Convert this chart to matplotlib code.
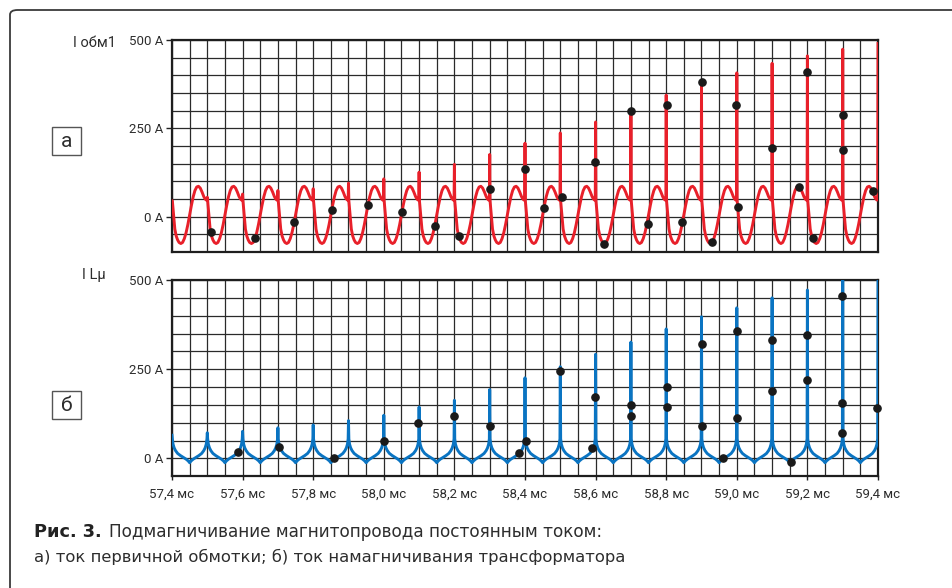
import matplotlib
matplotlib.use('Agg')
import matplotlib.pyplot as plt
import matplotlib.text as mtext
import numpy as np
from matplotlib.patches import FancyBboxPatch, Rectangle

# ---------------- data ----------------
spike_times = [57.4, 57.5, 57.6, 57.7, 57.8, 57.9, 58.0, 58.1, 58.2, 58.3, 58.4,
               58.5, 58.6, 58.7, 58.8, 58.9, 59.0, 59.1, 59.2, 59.3, 59.4]
red_spike_peaks = [45, 55, 64, 74, 79, 95, 107, 126, 148, 176, 208,
                   237, 268, 301, 344, 383, 407, 434, 455, 474, 490]
blue_spike_peaks = [65, 72, 76, 86, 94, 106, 121, 144, 163, 193, 226,
                    257, 292, 326, 363, 397, 422, 450, 472, 510, 510]

# one period of the red base wave: time after a spike (ms) / current (A)
red_period_dt = [0.001, 0.004, 0.008, 0.012, 0.016, 0.020, 0.025, 0.030, 0.035,
                 0.040, 0.045, 0.050, 0.055, 0.060, 0.065, 0.070, 0.075, 0.080,
                 0.085, 0.090, 0.094, 0.097, 0.099]
red_period_val = [45, 10, -35, -55, -66, -73, -76, -73, -62,
                  -45, -22, 5, 32, 56, 74, 84, 86, 81,
                  70, 57, 50, 47, 48]

# one period of the blue base wave: time after a spike (ms) / current (A)
blue_period_dt = [0.001, 0.003, 0.006, 0.010, 0.016, 0.024, 0.032, 0.040, 0.046,
                  0.050, 0.054, 0.060, 0.068, 0.076, 0.084, 0.090, 0.094, 0.097, 0.099]
blue_period_val = [55, 40, 30, 22, 14, 8, 3, -2, -7,
                   -12, -7, -2, 3, 8, 14, 22, 30, 40, 55]

red_dots_t = [57.510, 57.634, 57.747, 57.853, 57.955, 58.052, 58.145, 58.213,
              58.300, 58.400, 58.454, 58.504, 58.598, 58.625, 58.700, 58.749,
              58.801, 58.846, 58.900, 58.931, 58.999, 59.004, 59.099, 59.176,
              59.200, 59.216, 59.301, 59.301, 59.386]
red_dots_i = [-43, -61, -14, 18, 32, 14, -25, -55,
              78, 134, 25, 57, 154, -76, 299, -21,
              317, -14, 380, -73, 315, 26, 193, 83,
              410, -61, 289, 188, 74]

blue_dots_t = [57.587, 57.704, 57.860, 58.000, 58.097, 58.200, 58.300, 58.383,
               58.404, 58.499, 58.591, 58.598, 58.700, 58.700, 58.801, 58.801,
               58.900, 58.900, 58.961, 59.001, 59.001, 59.099, 59.099, 59.153,
               59.200, 59.200, 59.299, 59.299, 59.299, 59.398]
blue_dots_i = [18, 32, 0, 50, 100, 118, 91, 16,
               50, 244, 30, 172, 150, 119, 201, 145,
               321, 91, 0, 357, 113, 332, 188, -10,
               346, 221, 456, 156, 72, 141]

x_ticks = [57.4, 57.6, 57.8, 58.0, 58.2, 58.4, 58.6, 58.8, 59.0, 59.2, 59.4]
x_tick_labels = ['57,4 мс', '57,6 мс', '57,8 мс', '58,0 мс', '58,2 мс', '58,4 мс',
                 '58,6 мс', '58,8 мс', '59,0 мс', '59,2 мс', '59,4 мс']
y_ticks = [0, 250, 500]
y_tick_labels = ['0 A', '250 A', '500 A']

# ---------------- style ----------------
FONT = ['Roboto', 'DejaVu Sans']
CAP_FONT = ['DejaVu Sans']
plt.rcParams['font.family'] = FONT
RED = '#e8202a'
BLUE = '#0a74c2'
GRID = '#2a2a2a'
TXT = '#2d2d2d'

W, H = 952, 588
fig = plt.figure(figsize=(W / 100, H / 100), dpi=100)
fig.patch.set_facecolor('white')


def fx(px):
    return px / W


def fy(py):
    return 1 - py / H


def build_trace(times, peaks, dt, val):
    t_out, v_out = [], []
    for k, t0 in enumerate(times):
        t_out.append(t0)
        v_out.append(peaks[k])
        if k < len(times) - 1:
            for d, v in zip(dt, val):
                t_out.append(t0 + d)
                v_out.append(v)
    return t_out, v_out


# outer frame (rounded corner at top-left, runs off the right and bottom)
frame = FancyBboxPatch((fx(10), fy(620)), fx(1000), 610 / H,
                       boxstyle='round,pad=0,rounding_size=0.008',
                       transform=fig.transFigure, fill=False,
                       edgecolor='#3a3a3a', lw=1.3, clip_on=False)
fig.patches.append(frame)

ax1 = fig.add_axes([fx(172), fy(252), 706 / W, 212 / H])
ax2 = fig.add_axes([fx(172), fy(476.3), 706 / W, 196.3 / H])

for ax, ylo in ((ax1, -100), (ax2, -50)):
    ax.set_xlim(57.4, 59.4)
    ax.set_ylim(ylo, 500)
    ax.set_xticks(x_ticks)
    ax.set_xticks(np.arange(57.4, 59.4001, 0.05), minor=True)
    ax.set_yticks(y_ticks)
    ax.set_yticks(np.arange(ylo, 500.1, 50), minor=True)
    ax.set_yticklabels(y_tick_labels)
    ax.set_axisbelow(True)
    ax.grid(True, which='both', color=GRID, lw=0.9)
    ax.tick_params(which='minor', length=0)
    ax.tick_params(axis='y', which='major', length=4.5, width=1.0, color='#222222',
                   pad=2, labelsize=9.5, labelcolor=TXT)
    for s in ax.spines.values():
        s.set_linewidth(1.6)
        s.set_color('#1e1e1e')

ax1.tick_params(axis='x', which='major', length=0, labelbottom=False)
ax2.set_xticklabels(x_tick_labels)
ax2.tick_params(axis='x', which='major', length=3, width=1.0, color='#222222',
                pad=5, labelsize=9.5, labelcolor=TXT)

rt, rv = build_trace(spike_times, red_spike_peaks, red_period_dt, red_period_val)
ax1.plot(rt, rv, color=RED, lw=2.1, solid_joinstyle='round', zorder=3)
ax1.plot(red_dots_t, red_dots_i, 'o', color='#1a1a1a', ms=5.2, zorder=4, clip_on=False)

bt, bv = build_trace(spike_times, blue_spike_peaks, blue_period_dt, blue_period_val)
ax2.plot(bt, bv, color=BLUE, lw=2.1, solid_joinstyle='round', zorder=3)
ax2.plot(blue_dots_t, blue_dots_i, 'o', color='#1a1a1a', ms=5.2, zorder=4, clip_on=False)

# axis titles
fig.text(fx(73), fy(43), 'I обм1', fontsize=10.5, color=TXT, ha='left', va='center')
fig.text(fx(82), fy(275), 'I Lμ', fontsize=10.5, color=TXT, ha='left', va='center')

# boxed panel labels
for (y0, lab) in ((127, 'а'), (391, 'б')):
    fig.patches.append(Rectangle((fx(52), fy(y0 + 28)), 29 / W, 28 / H,
                                 transform=fig.transFigure, fill=False,
                                 edgecolor='#555555', lw=1.0))
    fig.text(fx(66.5), fy(y0 + 14.5), lab, fontsize=15, color=TXT,
             ha='center', va='center')

# caption
bold = fig.text(fx(34), fy(532), 'Рис. 3.', fontsize=12.8, fontweight='bold',
                family=CAP_FONT, color='#222222', ha='left', va='center')
ann = mtext.Annotation('Подмагничивание магнитопровода постоянным током:',
                       xy=(1, 0.5), xycoords=bold, xytext=(5, 0),
                       textcoords='offset points', fontsize=12.2, family=CAP_FONT,
                       color=TXT, ha='left', va='center')
ann.set_figure(fig)
fig.texts.append(ann)
fig.text(fx(34), fy(557), 'а) ток первичной обмотки; б) ток намагничивания трансформатора',
         fontsize=11.8, family=CAP_FONT, color=TXT, ha='left', va='center')

fig.savefig('out.png', dpi=100, facecolor='white')
